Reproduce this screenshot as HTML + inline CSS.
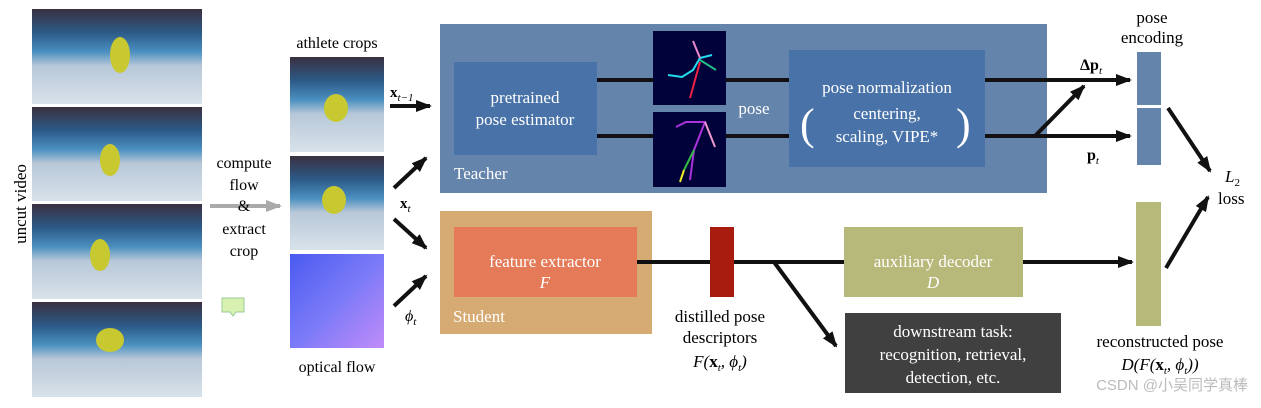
<!DOCTYPE html>
<html><head><meta charset="utf-8"><style>
body{margin:0;background:#fff;}
svg text{font-family:"Liberation Serif",serif;}
</style></head><body>
<svg width="1261" height="403" viewBox="0 0 1261 403" xmlns="http://www.w3.org/2000/svg">
<defs>
<marker id="ah" markerWidth="16" markerHeight="12" refX="14" refY="6" orient="auto" markerUnits="userSpaceOnUse"><path d="M0,0 L16,6 L0,12 z" fill="#111"/></marker>
<marker id="ag" markerWidth="16" markerHeight="12" refX="14" refY="6" orient="auto" markerUnits="userSpaceOnUse"><path d="M0,0 L16,6 L0,12 z" fill="#aaa"/></marker>
<linearGradient id="rink" x1="0" y1="0" x2="0" y2="1">
<stop offset="0" stop-color="#3a3040"/><stop offset="0.25" stop-color="#2c5a88"/><stop offset="0.45" stop-color="#4a90c0"/><stop offset="0.6" stop-color="#b8c8d8"/><stop offset="1" stop-color="#d8e2ea"/></linearGradient>
<linearGradient id="flow" x1="0" y1="0" x2="1" y2="1">
<stop offset="0" stop-color="#4a5af0"/><stop offset="0.5" stop-color="#7a7af8"/><stop offset="1" stop-color="#c08cf8"/></linearGradient>
</defs>
<g>
<rect x="32" y="9" width="170" height="95" fill="url(#rink)"/>
<rect x="32" y="107" width="170" height="94" fill="url(#rink)"/>
<rect x="32" y="204" width="170" height="95" fill="url(#rink)"/>
<rect x="32" y="302" width="170" height="95" fill="url(#rink)"/>
<ellipse cx="120" cy="55" rx="10" ry="18" fill="#c8c830"/>
<ellipse cx="110" cy="160" rx="10" ry="16" fill="#c8c830"/>
<ellipse cx="100" cy="255" rx="10" ry="16" fill="#c8c830"/>
<ellipse cx="110" cy="340" rx="14" ry="12" fill="#c8c830"/>
</g>
<text transform="translate(26,204) rotate(-90)" font-size="17" text-anchor="middle">uncut video</text>
<line x1="210" y1="206" x2="280" y2="206" stroke="#aaa" stroke-width="4" marker-end="url(#ag)"/>
<text x="244" y="168" font-size="16" text-anchor="middle">compute</text>
<text x="244" y="190" font-size="16" text-anchor="middle">flow</text>
<text x="244" y="211" font-size="16" text-anchor="middle">&amp;</text>
<text x="244" y="234" font-size="16" text-anchor="middle">extract</text>
<text x="244" y="256" font-size="16" text-anchor="middle">crop</text>
<path d="M222,298 h22 v14 h-8 l-3,4 l-3,-4 h-8z" fill="#d8f0b0" stroke="#9c9" stroke-width="1"/>
<text x="337" y="48" font-size="16" text-anchor="middle">athlete crops</text>
<rect x="290" y="57" width="94" height="95" fill="url(#rink)"/>
<rect x="290" y="156" width="94" height="94" fill="url(#rink)"/>
<rect x="290" y="254" width="94" height="94" fill="url(#flow)"/>
<ellipse cx="336" cy="108" rx="12" ry="14" fill="#c8c830"/>
<ellipse cx="334" cy="200" rx="12" ry="14" fill="#c8c830"/>
<text x="337" y="372" font-size="16" text-anchor="middle">optical flow</text>
<text x="390" y="97" font-size="15" font-weight="bold">x<tspan font-size="11" font-weight="normal" font-style="italic" dy="4">t−1</tspan></text>
<line x1="390" y1="106" x2="430" y2="106" stroke="#111" stroke-width="4" marker-end="url(#ah)"/>
<line x1="394" y1="188" x2="426" y2="158" stroke="#111" stroke-width="4" marker-end="url(#ah)"/>
<text x="400" y="208" font-size="15" font-weight="bold">x<tspan font-size="11" font-weight="normal" font-style="italic" dy="4">t</tspan></text>
<line x1="394" y1="219" x2="426" y2="248" stroke="#111" stroke-width="4" marker-end="url(#ah)"/>
<line x1="394" y1="306" x2="426" y2="276" stroke="#111" stroke-width="4" marker-end="url(#ah)"/>
<text x="405" y="321" font-size="16" font-style="italic">ϕ<tspan font-size="11" dy="4">t</tspan></text>
<rect x="440" y="24" width="607" height="169" fill="#6584ab"/>
<rect x="454" y="62" width="143" height="93" fill="#4872a8"/>
<text x="525" y="103" font-size="17" fill="#fff" text-anchor="middle">pretrained</text>
<text x="525" y="125" font-size="17" fill="#fff" text-anchor="middle">pose estimator</text>
<text x="454" y="179" font-size="17" fill="#fff">Teacher</text>
<line x1="597" y1="80" x2="789" y2="80" stroke="#111" stroke-width="4"/>
<line x1="597" y1="136" x2="789" y2="136" stroke="#111" stroke-width="4"/>
<rect x="653" y="31" width="73" height="74" fill="#02023a"/>
<rect x="653" y="112" width="73" height="75" fill="#02023a"/>
<polyline points="668,75 682,77 693,70 700,58 712,55" stroke="#2de" stroke-width="2" fill="none"/>
<line x1="693" y1="41" x2="700" y2="58" stroke="#e8c" stroke-width="2"/>
<line x1="700" y1="62" x2="690" y2="98" stroke="#e24" stroke-width="2"/>
<line x1="700" y1="60" x2="716" y2="70" stroke="#2b8" stroke-width="2"/>
<polyline points="676,127 686,122 705,122 694,150 690,180" stroke="#a3d" stroke-width="2" fill="none"/>
<line x1="705" y1="122" x2="715" y2="147" stroke="#e9c" stroke-width="2"/>
<line x1="694" y1="150" x2="684" y2="170" stroke="#3b4" stroke-width="2"/>
<line x1="684" y1="170" x2="680" y2="182" stroke="#ee2" stroke-width="2"/>
<text x="754" y="114" font-size="17" fill="#fff" text-anchor="middle">pose</text>
<rect x="789" y="50" width="196" height="117" fill="#4872a8"/>
<text x="887" y="93" font-size="17" fill="#fff" text-anchor="middle">pose normalization</text>
<text x="887" y="119" font-size="17" fill="#fff" text-anchor="middle">centering,</text>
<text x="887" y="142" font-size="17" fill="#fff" text-anchor="middle">scaling, VIPE*</text>
<text x="800" y="139" font-size="44" fill="#fff">(</text>
<text x="956" y="139" font-size="44" fill="#fff">)</text>
<line x1="985" y1="80" x2="1130" y2="80" stroke="#111" stroke-width="4" marker-end="url(#ah)"/>
<line x1="985" y1="136" x2="1130" y2="136" stroke="#111" stroke-width="4" marker-end="url(#ah)"/>
<line x1="1035" y1="136" x2="1084" y2="86" stroke="#111" stroke-width="4" marker-end="url(#ah)"/>
<text x="1080" y="70" font-size="16" font-weight="bold">Δp<tspan font-size="11" font-weight="normal" font-style="italic" dy="4">t</tspan></text>
<text x="1087" y="160" font-size="16" font-weight="bold">p<tspan font-size="11" font-weight="normal" font-style="italic" dy="4">t</tspan></text>
<text x="1152" y="23" font-size="17" text-anchor="middle">pose</text>
<text x="1152" y="43" font-size="17" text-anchor="middle">encoding</text>
<rect x="1137" y="52" width="24" height="53" fill="#6584ab"/>
<rect x="1137" y="108" width="24" height="57" fill="#6584ab"/>
<line x1="1168" y1="108" x2="1210" y2="171" stroke="#111" stroke-width="4" marker-end="url(#ah)"/>
<line x1="1166" y1="268" x2="1208" y2="197" stroke="#111" stroke-width="4" marker-end="url(#ah)"/>
<text x="1225" y="182" font-size="17" font-style="italic">L<tspan font-size="11" font-style="normal" dy="4">2</tspan></text>
<text x="1218" y="204" font-size="17">loss</text>
<rect x="440" y="211" width="212" height="123" fill="#d5ab73"/>
<rect x="454" y="227" width="183" height="70" fill="#e47a58"/>
<text x="545" y="267" font-size="17" fill="#fff" text-anchor="middle">feature extractor</text>
<text x="545" y="288" font-size="17" fill="#fff" font-style="italic" text-anchor="middle">F</text>
<text x="453" y="322" font-size="17" fill="#fff">Student</text>
<line x1="637" y1="262" x2="844" y2="262" stroke="#111" stroke-width="4"/>
<rect x="710" y="227" width="24" height="70" fill="#a81c10"/>
<line x1="774" y1="262" x2="836" y2="346" stroke="#111" stroke-width="4" marker-end="url(#ah)"/>
<text x="720" y="322" font-size="17" text-anchor="middle">distilled pose</text>
<text x="720" y="343" font-size="17" text-anchor="middle">descriptors</text>
<text x="720" y="367" font-size="17" text-anchor="middle" font-style="italic">F(<tspan font-weight="bold" font-style="normal">x</tspan><tspan font-size="11" dy="4">t</tspan><tspan dy="-4">, ϕ</tspan><tspan font-size="11" dy="4">t</tspan><tspan dy="-4">)</tspan></text>
<rect x="844" y="227" width="179" height="70" fill="#b7b97a"/>
<text x="933" y="267" font-size="17" fill="#fff" text-anchor="middle">auxiliary decoder</text>
<text x="933" y="288" font-size="17" fill="#fff" font-style="italic" text-anchor="middle">D</text>
<line x1="1023" y1="262" x2="1132" y2="262" stroke="#111" stroke-width="4" marker-end="url(#ah)"/>
<rect x="1136" y="202" width="25" height="124" fill="#b7b97a"/>
<rect x="845" y="313" width="216" height="80" fill="#404040"/>
<text x="953" y="337" font-size="17" fill="#fff" text-anchor="middle">downstream task:</text>
<text x="953" y="360" font-size="17" fill="#fff" text-anchor="middle">recognition, retrieval,</text>
<text x="953" y="383" font-size="17" fill="#fff" text-anchor="middle">detection, etc.</text>
<text x="1160" y="347" font-size="17" text-anchor="middle">reconstructed pose</text>
<text x="1160" y="370" font-size="17" text-anchor="middle" font-style="italic">D(F(<tspan font-weight="bold" font-style="normal">x</tspan><tspan font-size="11" dy="4">t</tspan><tspan dy="-4">, ϕ</tspan><tspan font-size="11" dy="4">t</tspan><tspan dy="-4">))</tspan></text>
<text x="1248" y="390" font-size="15" fill="#bbb" text-anchor="end" style="font-family:'Liberation Sans','Noto Sans CJK SC',sans-serif">CSDN @小吴同学真棒</text>
</svg>
</body></html>
